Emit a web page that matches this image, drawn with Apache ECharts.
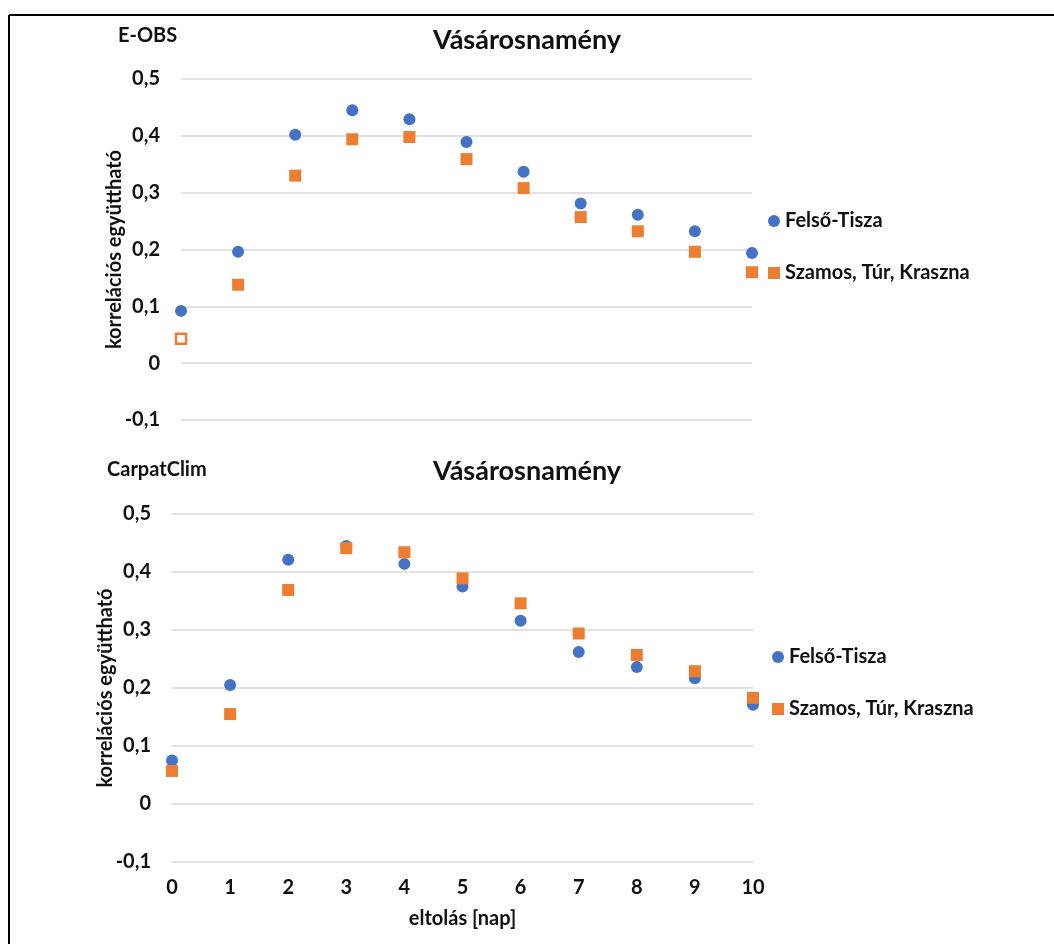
<!DOCTYPE html>
<html>
<head>
<meta charset="utf-8">
<script src="https://cdn.jsdelivr.net/npm/echarts@6/dist/echarts.min.js"></script>
<style>
  html, body { margin: 0; padding: 0; background: #fff; }
  #chart { width: 1054px; height: 944px; }
</style>
</head>
<body>
<div id="chart"></div>
<script>
// eltolás (lag in days)
const lags = [0, 1, 2, 3, 4, 5, 6, 7, 8, 9, 10]

// E-OBS
const eobsFelsoTisza = [0.092, 0.196, 0.402, 0.445, 0.429, 0.389, 0.337, 0.281, 0.261, 0.232, 0.194]
const eobsSzamos = [0.043, 0.138, 0.330, 0.394, 0.398, 0.359, 0.308, 0.257, 0.232, 0.196, 0.160]

// CarpatClim
const carpatFelsoTisza = [0.075, 0.205, 0.421, 0.445, 0.414, 0.375, 0.316, 0.262, 0.236, 0.217, 0.171]
const carpatSzamos = [0.057, 0.155, 0.369, 0.441, 0.434, 0.389, 0.346, 0.294, 0.257, 0.229, 0.183]

const yTicks = [-0.1, 0, 0.1, 0.2, 0.3, 0.4, 0.5]

const BLUE = '#4472C4'
const ORANGE = '#ED7D31'
const FONT = 'Lato'
const TEXT = '#111'

const pairs = (xs, ys) => xs.map((x, i) => [x, ys[i]])
const fmt = v => String(Math.round(v * 10) / 10).replace('.', ',')

const chart = echarts.init(document.getElementById('chart'), null, { renderer: 'canvas' })

const yAxisBase = (gridIndex, nameGap) => ({
  gridIndex,
  type: 'value',
  min: yTicks[0],
  max: yTicks[yTicks.length - 1],
  interval: 0.1,
  name: 'korrelációs együttható',
  nameLocation: 'middle',
  nameRotate: 90,
  nameGap,
  nameMoveOverlap: false,
  nameTextStyle: { fontFamily: FONT, fontWeight: 'bold', fontSize: 20, color: TEXT },
  axisLine: { show: false },
  axisTick: { show: false },
  axisLabel: { formatter: fmt, margin: 21, fontFamily: FONT, fontWeight: 'bold', fontSize: 20, color: TEXT },
  splitLine: { lineStyle: { color: '#d9d9d9', width: 1.5 } }
})

const xAxisBase = (gridIndex, showLabels) => ({
  gridIndex,
  type: 'value',
  min: 0,
  max: 10,
  interval: 1,
  axisLine: { show: false },
  axisTick: { show: false },
  splitLine: { show: false },
  axisLabel: { show: showLabels, margin: 16, fontFamily: FONT, fontWeight: 'bold', fontSize: 20, color: TEXT },
  name: showLabels ? 'eltolás [nap]' : '',
  nameLocation: 'middle',
  nameGap: 47,
  nameTextStyle: { fontFamily: FONT, fontWeight: 'bold', fontSize: 20, color: TEXT }
})

const legendBase = (left, top) => ({
  orient: 'vertical',
  left,
  top,
  itemWidth: 12,
  itemHeight: 12,
  itemGap: 32,
  selectedMode: false,
  textStyle: { fontFamily: FONT, fontWeight: 'bold', fontSize: 20, lineHeight: 20, color: TEXT },
  data: [
    { name: 'Felső-Tisza', icon: 'circle' },
    { name: 'Szamos, Túr, Kraszna', icon: 'rect' }
  ]
})

const blueSeries = (idx, data) => ({
  name: 'Felső-Tisza',
  type: 'scatter',
  xAxisIndex: idx,
  yAxisIndex: idx,
  symbol: 'circle',
  symbolSize: 12,
  itemStyle: { color: BLUE, opacity: 1 },
  data
})

const orangeSeries = (idx, data) => ({
  name: 'Szamos, Túr, Kraszna',
  type: 'scatter',
  xAxisIndex: idx,
  yAxisIndex: idx,
  symbol: 'rect',
  symbolSize: 12,
  itemStyle: { color: ORANGE, opacity: 1 },
  data
})

// first E-OBS orange point is drawn hollow in the original
const eobsSzamosData = pairs(lags, eobsSzamos).map((p, i) =>
  i === 0
    ? { value: p, symbolSize: 10, itemStyle: { color: '#fff', borderColor: ORANGE, borderWidth: 2.5 } }
    : p
)

chart.setOption({
  animation: false,
  title: [
    { text: 'E-OBS', left: 113, top: 21, textStyle: { fontFamily: FONT, fontWeight: 'bold', fontSize: 20, color: TEXT } },
    { text: 'Vásárosnamény', left: 'center', top: 22, textStyle: { fontFamily: FONT, fontWeight: 'bold', fontSize: 27, color: TEXT } },
    { text: 'CarpatClim', left: 102, top: 455, textStyle: { fontFamily: FONT, fontWeight: 'bold', fontSize: 20, color: TEXT } },
    { text: 'Vásárosnamény', left: 'center', top: 453, textStyle: { fontFamily: FONT, fontWeight: 'bold', fontSize: 27, color: TEXT } }
  ],
  legend: [legendBase(763, 206), legendBase(767, 642)],
  grid: [
    { left: 181, right: 302, top: 79, height: 341 },
    { left: 172, right: 301, top: 514, height: 348 }
  ],
  xAxis: [xAxisBase(0, false), xAxisBase(1, true)],
  yAxis: [yAxisBase(0, 56), yAxisBase(1, 56)],
  series: [
    blueSeries(0, pairs(lags, eobsFelsoTisza)),
    orangeSeries(0, eobsSzamosData),
    blueSeries(1, pairs(lags, carpatFelsoTisza)),
    orangeSeries(1, pairs(lags, carpatSzamos))
  ],
  graphic: [
    { type: 'line', shape: { x1: 9, y1: 15, x2: 1054, y2: 15 }, style: { stroke: '#000', lineWidth: 2 } },
    { type: 'line', shape: { x1: 9, y1: 15, x2: 9, y2: 944 }, style: { stroke: '#000', lineWidth: 2 } }
  ]
})

window.addEventListener('resize', () => chart.resize())
</script>
</body>
</html>
